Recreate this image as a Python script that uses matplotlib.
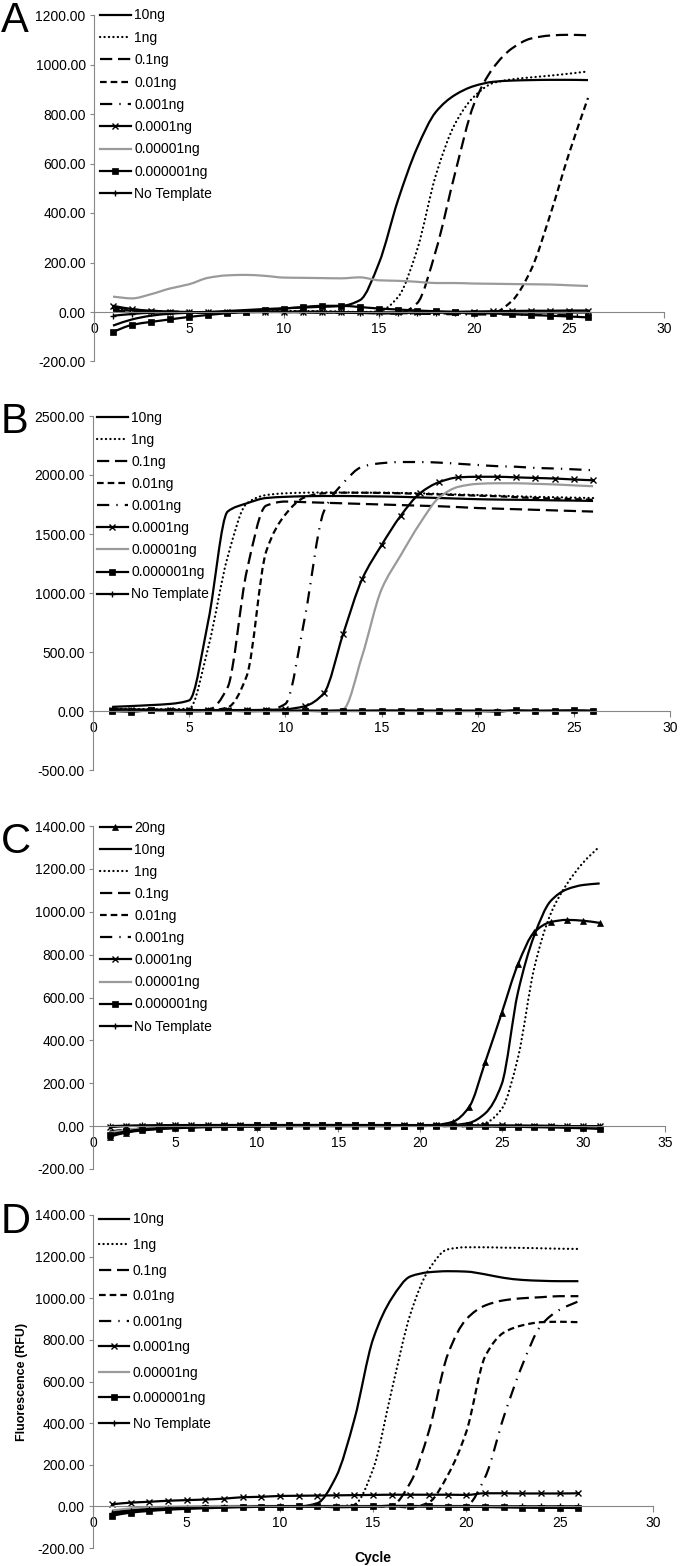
import numpy as np
import matplotlib
matplotlib.use("Agg")
import matplotlib.pyplot as plt
from matplotlib.path import Path
from matplotlib.patches import PathPatch
from matplotlib.lines import Line2D
from matplotlib.ticker import FormatStrFormatter, MultipleLocator

plt.rcParams['font.family'] = ['Liberation Sans', 'DejaVu Sans']
plt.rcParams['axes.unicode_minus'] = False

# ---------------- data ----------------
labels = ['10ng', '1ng', '0.1ng', '0.01ng', '0.001ng', '0.0001ng',
          '0.00001ng', '0.000001ng', 'No Template']
labels_c = ['20ng'] + labels

cycles_26 = list(range(1, 27))
cycles_31 = list(range(1, 32))

# Panel A
A_10ng = [-55, -30, -15, -7, -3, 0, 4, 8, 12, 15, 18, 21, 24, 48, 198, 452, 662, 809, 877, 913, 930, 935, 937, 938, 938, 937]
A_1ng = [15, 8, 3, 0, -3, -2, 0, 2, 3, 4, 4, 3, 2, 0, 3, 60, 250, 555, 760, 870, 925, 940, 948, 955, 963, 972]
A_01ng = [20, 10, 5, 2, 0, -2, -1, 0, 1, 2, 2, 1, 0, -3, -5, -6, 35, 250, 560, 840, 985, 1065, 1105, 1117, 1120, 1118]
A_001ng = [10, 5, 3, 0, -1, -2, -1, 0, 1, 1, 0, -1, -2, -3, -4, -5, -5, -6, -6, -6, -3, 45, 170, 390, 640, 865]
A_0001ng = [5, 2, 0, -2, -3, -3, -2, 0, 0, 0, -1, -2, -3, -4, -5, -6, -7, -8, -9, -10, -10, -11, -12, -12, -13, -13]
A_00001ng = [25, 12, 5, 2, 0, -2, -2, -1, 0, 0, 0, 0, -1, -1, -2, -2, -1, 0, 1, 2, 3, 4, 5, 5, 6, 6]
A_000001ng = [62, 55, 72, 95, 112, 138, 148, 150, 146, 139, 138, 137, 136, 140, 128, 126, 122, 117, 117, 115, 114, 113, 112, 111, 108, 105]
A_0000001ng = [-80, -52, -40, -30, -20, -12, -5, 1, 8, 14, 20, 25, 25, 20, 14, 10, 6, 3, 0, -3, -6, -9, -12, -15, -18, -22]
A_notemplate = [-15, -8, -3, -2, -1, 0, 0, 1, 1, 0, -1, -2, -2, -3, -3, -3, -3, -3, -3, -3, -3, -2, -2, -2, -2, -2]

# Panel B
B_10ng = [35, 42, 50, 60, 90, 770, 1690, 1760, 1805, 1815, 1820, 1822, 1822, 1820, 1818, 1815, 1810, 1805, 1800, 1795, 1792, 1790, 1788, 1785, 1783, 1780]
B_1ng = [20, 18, 15, 15, 20, 545, 1305, 1760, 1830, 1845, 1850, 1852, 1852, 1850, 1850, 1848, 1845, 1840, 1835, 1830, 1825, 1820, 1815, 1812, 1808, 1805]
B_01ng = [10, 8, 5, 5, 5, 10, 200, 1190, 1740, 1775, 1770, 1765, 1760, 1755, 1750, 1745, 1740, 1735, 1728, 1720, 1715, 1710, 1705, 1700, 1695, 1690]
B_001ng = [5, 5, 3, 3, 5, 5, 30, 300, 1350, 1665, 1810, 1845, 1850, 1850, 1848, 1845, 1840, 1835, 1830, 1825, 1820, 1812, 1805, 1800, 1795, 1790]
B_0001ng = [5, 5, 3, 3, 3, 3, 3, 3, 5, 60, 780, 1690, 1930, 2070, 2100, 2110, 2110, 2105, 2095, 2085, 2075, 2070, 2060, 2055, 2048, 2040]
B_00001ng = [10, 10, 10, 10, 8, 8, 8, 8, 10, 15, 40, 150, 650, 1120, 1405, 1655, 1845, 1940, 1980, 1985, 1985, 1980, 1975, 1970, 1962, 1955]
B_000001ng = [0, 0, 0, 0, 0, 0, 0, 0, 0, 0, 0, 0, 15, 470, 1030, 1320, 1590, 1810, 1900, 1925, 1930, 1930, 1925, 1920, 1912, 1905]
B_0000001ng = [0, -5, 5, 0, -3, 0, 3, -2, 0, 0, 2, -2, 0, 0, 3, 2, 0, 0, 0, 0, -5, 5, 0, 2, 5, 0]
B_notemplate = [15, 12, 10, 8, 5, 5, 5, 5, 5, 3, 3, 3, 3, 3, 3, 3, 3, 3, 3, 3, 3, 3, 3, 3, 3, 3]

# Panel C
C_20ng = [-50, -30, -20, -14, -10, -7, -5, -4, -3, -2, -1, 0, 0, 0, 0, 0, 0, 0, 2, 3, 6, 20, 88, 300, 527, 755, 905, 952, 962, 958, 948]
C_10ng = [-45, -28, -18, -12, -8, -5, -3, -2, -1, 0, 0, 1, 1, 1, 1, 1, 1, 1, 1, 1, 2, 5, 15, 60, 195, 625, 890, 1050, 1105, 1125, 1132]
C_1ng = [-40, -25, -15, -10, -6, -4, -2, -1, 0, 0, 1, 1, 1, 1, 1, 1, 1, 1, 1, 1, 1, 2, 3, 15, 80, 320, 740, 990, 1130, 1230, 1305]
C_01ng = [-35, -22, -14, -9, -6, -4, -2, -1, 0, 1, 1, 2, 2, 2, 2, 2, 2, 2, 2, 2, 2, 1, 1, 0, 0, -1, -2, -3, -4, -5, -6]
C_001ng = [-30, -20, -12, -8, -5, -3, -2, -1, 0, 0, 1, 1, 1, 2, 2, 2, 2, 2, 1, 1, 1, 0, 0, 0, -1, -1, -2, -3, -3, -4, -5]
C_0001ng = [-25, -16, -10, -6, -4, -2, -1, 0, 0, 1, 1, 1, 1, 1, 1, 1, 1, 1, 1, 1, 0, 0, 0, -1, -1, -2, -2, -3, -3, -4, -4]
C_00001ng = [-5, 0, 2, 3, 4, 4, 5, 5, 5, 5, 5, 5, 5, 5, 5, 5, 5, 5, 5, 5, 5, 4, 4, 3, 3, 2, 2, 1, 0, 0, -1]
C_000001ng = [-30, -18, -10, -6, -3, -1, 0, 1, 2, 2, 3, 3, 3, 3, 3, 3, 3, 3, 3, 3, 2, 2, 2, 1, 1, 0, 0, -1, -1, -2, -2]
C_0000001ng = [-40, -25, -15, -10, -5, -3, -2, 0, 2, 3, 4, 5, 5, 5, 5, 5, 4, 3, 2, 2, 2, 1, 0, -1, -2, -3, -5, -6, -8, -10, -13]
C_notemplate = [0, 2, 3, 4, 5, 5, 5, 5, 5, 5, 5, 5, 5, 5, 5, 5, 5, 5, 4, 4, 4, 3, 3, 2, 2, 2, 1, 1, 0, 0, 0]

# Panel D
D_10ng = [-40, -25, -15, -10, -6, -4, -2, -1, 0, 0, 0, 15, 140, 420, 805, 1000, 1105, 1125, 1130, 1128, 1115, 1098, 1088, 1084, 1082, 1082]
D_1ng = [-38, -24, -15, -10, -6, -4, -2, -1, 0, 0, 0, 0, 0, 10, 180, 560, 925, 1140, 1235, 1245, 1245, 1243, 1242, 1240, 1238, 1237]
D_01ng = [-36, -22, -14, -9, -6, -4, -2, -1, 0, 0, 0, 0, 0, 0, 0, 5, 115, 365, 730, 900, 965, 990, 1000, 1005, 1010, 1010]
D_001ng = [-34, -20, -12, -8, -5, -3, -2, -1, 0, 0, 0, 0, 0, 0, 0, 0, -5, 20, 150, 360, 720, 835, 870, 885, 887, 885]
D_0001ng = [-32, -19, -11, -7, -4, -2, -1, 0, 0, 0, 0, 0, 0, 0, 0, 0, 0, 0, 0, 5, 140, 430, 680, 870, 945, 985]
D_00001ng = [10, 18, 22, 27, 30, 33, 37, 44, 46, 50, 51, 52, 53, 54, 55, 56, 56, 56, 56, 55, 63, 63, 62, 62, 62, 63]
D_000001ng = [-20, -10, -5, -2, 0, 1, 2, 2, 2, 2, 2, 2, 2, 2, 2, 2, 2, 2, 2, 2, 1, 1, 1, 0, 0, 0]
D_0000001ng = [-45, -30, -22, -16, -12, -9, -6, -4, -2, -1, 0, 0, -4, -3, 0, 2, 2, 0, -2, -2, -3, -5, -6, -7, -7, -8]
D_notemplate = [-30, -20, -14, -10, -7, -5, -3, -2, -1, 0, 0, 0, 0, 0, 0, 0, 0, 0, 0, 0, 0, 0, 0, 0, 0, 0]

# ---------------- styles ----------------
LW = 1.6
GRAY_AX = '#868686'
STYLES = {
    '20ng': dict(color='black', ls='-', marker='^', ms=5),
    '10ng': dict(color='black', ls='-', marker=None),
    '1ng': dict(color='black', ls=(0, (0.1, 1.9)), marker=None, cap='round'),
    '0.1ng': dict(color='black', ls=(0, (5.5, 2.6)), marker=None),
    '0.01ng': dict(color='black', ls=(0, (3.0, 1.8)), marker=None),
    '0.001ng': dict(color='black', ls=(0, (5.5, 3.2, 0.6, 3.2)), marker=None),
    '0.0001ng': dict(color='black', ls='-', marker='x', ms=5),
    '0.00001ng': dict(color='#9a9a9a', ls='-', marker=None),
    '0.000001ng': dict(color='black', ls='-', marker='s', ms=4),
    'No Template': dict(color='black', ls='-', marker='+', ms=5),
}

W, H = 680, 1566
fig = plt.figure(figsize=(W / 100, H / 100), dpi=100)


def fig_rect(left, right, top, bottom):
    return [left / W, 1 - bottom / H, (right - left) / W, (bottom - top) / H]


def smooth_path(x, y):
    """Smoothed line through the data points (monotone cubic Bezier)."""
    x = np.asarray(x, float)
    y = np.asarray(y, float)
    n = len(x)
    h = np.diff(x)
    s = np.diff(y) / h
    d = np.zeros(n)
    d[0] = s[0]
    d[-1] = s[-1]
    for k in range(1, n - 1):
        if s[k - 1] * s[k] > 0:
            d[k] = 2.0 / (1.0 / s[k - 1] + 1.0 / s[k])
        else:
            d[k] = 0.0
    verts = [(x[0], y[0])]
    codes = [Path.MOVETO]
    for i in range(n - 1):
        verts += [(x[i] + h[i] / 3, y[i] + d[i] * h[i] / 3),
                  (x[i + 1] - h[i] / 3, y[i + 1] - d[i + 1] * h[i] / 3),
                  (x[i + 1], y[i + 1])]
        codes += [Path.CURVE4] * 3
    return Path(verts, codes)


def draw_series(ax, x, y, name):
    st = STYLES[name]
    patch = PathPatch(smooth_path(x, y), fill=False, edgecolor=st['color'],
                      linewidth=LW, linestyle=st['ls'],
                      capstyle=st.get('cap', 'butt'), joinstyle='round')
    ax.add_patch(patch)
    if st['marker']:
        ax.plot(x, y, linestyle='none', marker=st['marker'], ms=st['ms'],
                color='black', mec='black', mew=1.0 if st['marker'] in 'x+' else 0.5)


def legend_handle(name):
    st = STYLES[name]
    h = Line2D([], [], color=st['color'], lw=LW, linestyle=st['ls'],
               marker=st['marker'] if st['marker'] else None,
               ms=st.get('ms', 0), mec='black', mfc='black',
               mew=1.0 if st['marker'] in ('x', '+') else 0.5)
    if st.get('cap'):
        h.set_dash_capstyle('round')
    return h


def setup_axes(ax, xmax, ymin, ymax, ystep):
    ax.set_xlim(0, xmax)
    ax.set_ylim(ymin, ymax)
    for s in ('top', 'right'):
        ax.spines[s].set_visible(False)
    ax.spines['left'].set_color(GRAY_AX)
    ax.spines['left'].set_linewidth(0.8)
    ax.spines['bottom'].set_color(GRAY_AX)
    ax.spines['bottom'].set_linewidth(0.8)
    ax.spines['bottom'].set_position(('data', 0))
    ax.xaxis.set_major_locator(MultipleLocator(5))
    ax.yaxis.set_major_locator(MultipleLocator(ystep))
    ax.yaxis.set_major_formatter(FormatStrFormatter('%.2f'))
    ax.tick_params(axis='y', direction='out', length=3, width=0.8,
                   color=GRAY_AX, labelsize=10, pad=3)
    ax.tick_params(axis='x', direction='out', length=4, width=0.8,
                   color=GRAY_AX, labelsize=10, pad=3)
    ax.set_facecolor('none')


panels = [
    dict(letter='A', rect=(94, 664, 15, 361.5), xmax=30, ylim=(-200, 1200, 200),
         x=cycles_26, names=labels,
         ys=[A_10ng, A_1ng, A_01ng, A_001ng, A_0001ng, A_00001ng, A_000001ng, A_0000001ng, A_notemplate],
         leg=(100, 8.5), spacing=0.6, letter_base=32),
    dict(letter='B', rect=(93, 670, 416, 770), xmax=30, ylim=(-500, 2500, 500),
         x=cycles_26, names=labels,
         ys=[B_10ng, B_1ng, B_01ng, B_001ng, B_0001ng, B_00001ng, B_000001ng, B_0000001ng, B_notemplate],
         leg=(97, 411), spacing=0.58, letter_base=433),
    dict(letter='C', rect=(93.3, 665, 826, 1169), xmax=35, ylim=(-200, 1400, 200),
         x=cycles_31, names=labels_c,
         ys=[C_20ng, C_10ng, C_1ng, C_01ng, C_001ng, C_0001ng, C_00001ng, C_000001ng, C_0000001ng, C_notemplate],
         leg=(100, 821), spacing=0.58, letter_base=853),
    dict(letter='D', rect=(93.3, 653, 1215, 1548), xmax=30, ylim=(-200, 1400, 200),
         x=cycles_26, names=labels,
         ys=[D_10ng, D_1ng, D_01ng, D_001ng, D_0001ng, D_00001ng, D_000001ng, D_0000001ng, D_notemplate],
         leg=(98.6, 1212.5), spacing=0.83, letter_base=1233),
]

for p in panels:
    l, r, t, b = p['rect']
    ax = fig.add_axes(fig_rect(l, r, t, b))
    ymin, ymax, ystep = p['ylim']
    setup_axes(ax, p['xmax'], ymin, ymax, ystep)
    for name, y in zip(p['names'], p['ys']):
        draw_series(ax, p['x'], y, name)
    handles = [legend_handle(n) for n in p['names']]
    lx, ly = p['leg']
    ax.legend(handles, p['names'], loc='upper left',
              bbox_to_anchor=(lx / W, 1 - ly / H), bbox_transform=fig.transFigure,
              frameon=False, borderpad=0, borderaxespad=0, fontsize=10,
              handlelength=2.2, handletextpad=0.25, labelspacing=p['spacing'],
              numpoints=1)
    fig.text(1 / W, 1 - p['letter_base'] / H, p['letter'], fontsize=30,
             ha='left', va='baseline')

fig.text(22 / W, 1 - 1382 / H, 'Fluorescence (RFU)', rotation=90, fontsize=9,
         fontweight='bold', ha='center', va='center')
fig.text(373 / W, 1 - 1558 / H, 'Cycle', fontsize=10, fontweight='bold',
         ha='center', va='center')

fig.savefig('out.png', dpi=100)
